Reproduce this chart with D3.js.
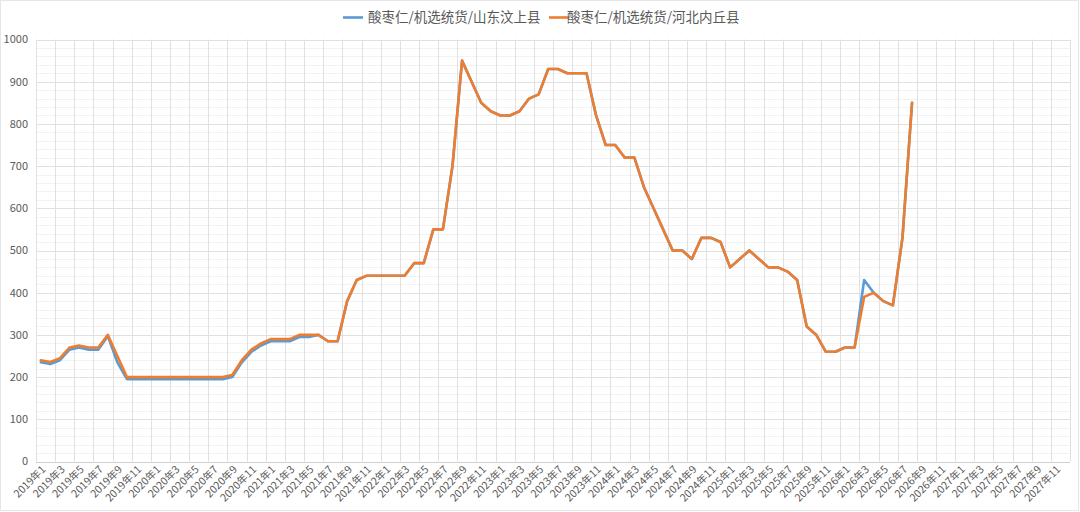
<!DOCTYPE html>
<html><head><meta charset="utf-8">
<script src="https://cdn.jsdelivr.net/npm/d3@7"></script>
<style>
html,body{margin:0;padding:0;background:#fff;}
svg{display:block;font-family:"Noto Sans CJK SC","Noto Sans",sans-serif;}
</style></head>
<body><svg id="chart" width="1080" height="512"></svg>
<script>
// ---- data ----
const seriesNames = ["酸枣仁/机选统货/山东汶上县", "酸枣仁/机选统货/河北内丘县"];
const years = [2019, 2020, 2021, 2022, 2023, 2024, 2025, 2026, 2027];
const months = [1,2,3,4,5,6,7,8,9,10,11,12];
const categories = years.flatMap(y => months.map(m => y + "年" + m));
const yTicks = [0,100,200,300,400,500,600,700,800,900,1000];
const shandong = [235,231,240,265,270,265,265,297,235,195,
  195,195,195,195,195,195,195,195,195,195,
  200,235,260,275,285,285,285,295,295,300,285,285,380,430,440,440,440,440,440,470,470,550,550,700,950,900,850,830,820,820,830,860,870,930,930,920,920,920,820,750,750,720,720,650,600,550,500,500,480,530,530,520,460,480,500,480,460,460,450,430,320,300,260,260,270,270,430,400,380,370,530,850];
const hebei = [240,236,245,270,275,270,270,300,250,200,
  200,200,200,200,200,200,200,200,200,200,
  205,240,265,280,290,290,290,300,300,300,285,285,380,430,440,440,440,440,440,470,470,550,550,700,950,900,850,830,820,820,830,860,870,930,930,920,920,920,820,750,750,720,720,650,600,550,500,500,480,530,530,520,460,480,500,480,460,460,450,430,320,300,260,260,270,270,390,400,380,370,530,850];
const colors = ["#5B9BD5", "#ED7D31"];

// ---- layout ----
const svg = d3.select("#chart");
const L = 36, R = 1070, T = 39.5, B = 461.5;
const x = d3.scaleBand().domain(categories).range([L, R]).padding(0);
const y = d3.scaleLinear().domain([0, 1000]).range([B, T]);

svg.append("rect").attr("x",0.5).attr("y",0.5).attr("width",1078).attr("height",510)
  .attr("fill","#fff").attr("stroke","#e6e6e6");

// minor horizontal grid
const minor = d3.range(0, 1001, 20).filter(v => v % 100 !== 0);
svg.append("g").selectAll("line").data(minor).join("line")
  .attr("x1", L).attr("x2", R).attr("y1", d => Math.round(y(d))+0.5).attr("y2", d => Math.round(y(d))+0.5)
  .attr("stroke", "#f2f2f2").attr("stroke-width", 1);
// vertical grid every 2 categories
const vIdx = d3.range(0, categories.length + 1, 2);
svg.append("g").selectAll("line").data(vIdx).join("line")
  .attr("x1", i => Math.round(L + i * x.bandwidth()) + 0.5).attr("x2", i => Math.round(L + i * x.bandwidth()) + 0.5)
  .attr("y1", T).attr("y2", B)
  .attr("stroke", "#e0e0e0").attr("stroke-width", 1);
// major horizontal grid
svg.append("g").selectAll("line").data(yTicks).join("line")
  .attr("x1", L).attr("x2", R).attr("y1", d => Math.round(y(d))+0.5).attr("y2", d => Math.round(y(d))+0.5)
  .attr("stroke", d => d === 0 ? "#d0d0d0" : "#e0e0e0").attr("stroke-width", 1);

// y labels
svg.append("g").selectAll("text").data(yTicks).join("text")
  .attr("x", 28).attr("y", d => y(d)).attr("dy", "0.35em")
  .attr("text-anchor", "end").attr("font-size", 11).attr("fill", "#595959")
  .text(d => d);

// x labels
const xl = categories.filter((c, i) => i % 2 === 0);
svg.append("g").selectAll("text").data(xl).join("text")
  .attr("transform", c => `translate(${x(c) + x.bandwidth()/2 + 3},${B + 6}) rotate(-45)`)
  .attr("dy", "0.35em").attr("text-anchor", "end")
  .attr("font-size", 10.5).attr("fill", "#595959")
  .text(c => c);

// lines
const line = d3.line()
  .defined(d => d != null)
  .x((d, i) => x(categories[i]) + x.bandwidth() / 2)
  .y(d => y(d));
[shandong, hebei].forEach((s, k) => {
  svg.append("path").datum(s).attr("d", line)
    .attr("fill", "none").attr("stroke", colors[k]).attr("stroke-width", 2.6)
    .attr("stroke-linejoin", "round").attr("stroke-linecap", "round");
});

// legend
const legX = [343, 549], txtX = [368, 567];
seriesNames.forEach((n, k) => {
  svg.append("line").attr("x1", legX[k]).attr("x2", legX[k] + 20).attr("y1", 17.5).attr("y2", 17.5)
    .attr("stroke", colors[k]).attr("stroke-width", 2.6);
  svg.append("text").attr("x", txtX[k]).attr("y", 17.5).attr("dy", "0.35em")
    .attr("font-size", 13.5).attr("fill", "#595959").text(n);
});
</script></body></html>
